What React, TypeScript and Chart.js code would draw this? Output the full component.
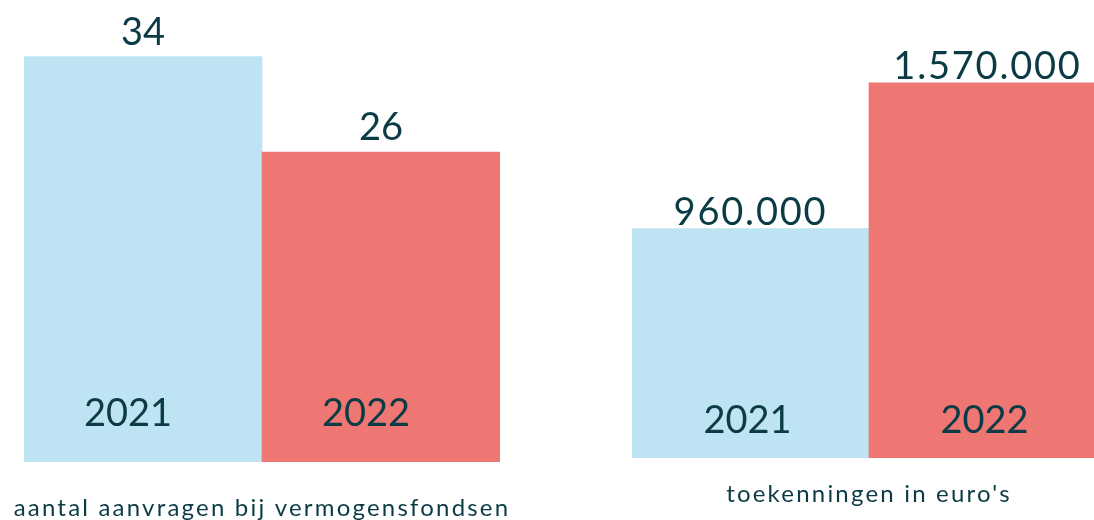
import React, { useEffect, useRef } from "react";
import { Chart, registerables } from "chart.js";

Chart.register(...registerables);

const categories = ["2021", "2022"];
const requestValues = [34, 26];
const grantValues = [960000, 1570000];
const requestTitle = "aantal aanvragen bij vermogensfondsen";
const grantTitle = "toekenningen in euro's";
const requestMax = 38;
const grantMax = 1800000;
const barColors = ["#BEE3F2", "#EF7773"];
const textColor = "#0B3B45";
const fontFamily = "Lato, 'Open Sans', sans-serif";

function formatNL(v: number): string {
  const s = Math.round(v).toString();
  return s.replace(/\B(?=(\d{3})+(?!\d))/g, ".");
}

type PanelCfg = {
  values: number[];
  max: number;
  title: string;
  padding: { left: number; right: number; top: number; bottom: number };
  valueGap: number;
  valueSpacing: number;
  yearRise: number;
  yearShift: number;
  titleDrop: number;
  titleSpacing: number;
};

function makeLabelPlugin(cfg: PanelCfg) {
  return {
    id: "panelLabels",
    afterDatasetsDraw(chart: any) {
      const ctx = chart.ctx as CanvasRenderingContext2D;
      const area = chart.chartArea;
      const meta = chart.getDatasetMeta(0);
      ctx.save();
      ctx.fillStyle = textColor;
      ctx.textAlign = "center";
      ctx.textBaseline = "alphabetic";
      ctx.font = `38px ${fontFamily}`;
      meta.data.forEach((bar: any, i: number) => {
        (ctx as any).letterSpacing = `${cfg.valueSpacing}px`;
        ctx.fillText(formatNL(cfg.values[i]), bar.x, bar.y - cfg.valueGap);
        (ctx as any).letterSpacing = "0px";
        ctx.fillText(categories[i], bar.x + cfg.yearShift, area.bottom - cfg.yearRise);
      });
      ctx.font = `24px ${fontFamily}`;
      (ctx as any).letterSpacing = `${cfg.titleSpacing}px`;
      ctx.fillText(cfg.title, (area.left + area.right) / 2, area.bottom + cfg.titleDrop);
      ctx.restore();
    },
  };
}

function Panel({ cfg, left, width }: { cfg: PanelCfg; left: number; width: number }) {
  const ref = useRef<HTMLCanvasElement>(null);
  useEffect(() => {
    if (!ref.current) return;
    const chart = new Chart(ref.current, {
      type: "bar",
      data: {
        labels: categories,
        datasets: [
          {
            data: cfg.values,
            backgroundColor: barColors,
            borderWidth: 0,
            barPercentage: 1,
            categoryPercentage: 1,
          },
        ],
      },
      options: {
        responsive: false,
        animation: false,
        layout: { padding: cfg.padding },
        plugins: { legend: { display: false }, tooltip: { enabled: false } },
        scales: {
          x: { display: false },
          y: { display: false, min: 0, max: cfg.max },
        },
      },
      plugins: [makeLabelPlugin(cfg)],
    });
    return () => chart.destroy();
  }, []);
  return (
    <canvas
      ref={ref}
      width={width}
      height={520}
      style={{ position: "absolute", left, top: 0, width, height: 520 }}
    />
  );
}

const leftCfg: PanelCfg = {
  values: requestValues,
  max: requestMax,
  title: requestTitle,
  padding: { left: 24, right: 40, top: 9, bottom: 58 },
  valueGap: 12,
  valueSpacing: 0,
  yearRise: 36,
  yearShift: -15,
  titleDrop: 54,
  titleSpacing: 2.2,
};

const rightCfg: PanelCfg = {
  values: grantValues,
  max: grantMax,
  title: grantTitle,
  padding: { left: 32, right: 0, top: 28, bottom: 62 },
  valueGap: 4,
  valueSpacing: 1.8,
  yearRise: 25,
  yearShift: -3,
  titleDrop: 44,
  titleSpacing: 2.2,
};

export default function App() {
  return (
    <div
      style={{
        position: "fixed",
        left: 0,
        top: 0,
        width: 1094,
        height: 520,
        overflow: "hidden",
        background: "#fff",
      }}
    >
      <Panel cfg={leftCfg} left={0} width={540} />
      <Panel cfg={rightCfg} left={600} width={506} />
    </div>
  );
}
